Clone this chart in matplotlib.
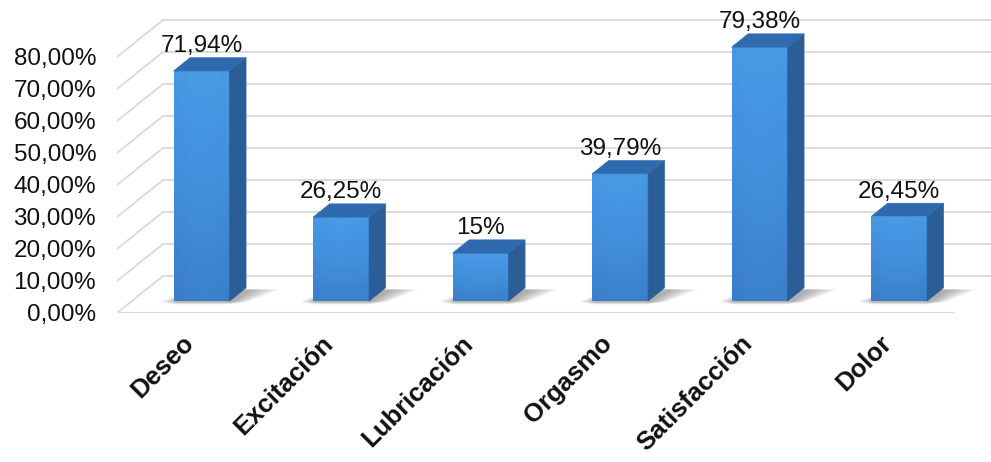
import numpy as np
import matplotlib
matplotlib.use("Agg")
import matplotlib.pyplot as plt
from matplotlib.patches import Polygon
from matplotlib.colors import LinearSegmentedColormap
from matplotlib.transforms import ScaledTranslation

# ---- data ----
categories = ["Deseo", "Excitación", "Lubricación", "Orgasmo", "Satisfacción", "Dolor"]
values = [71.94, 26.25, 15.0, 39.79, 79.38, 26.45]
value_labels = ["71,94%", "26,25%", "15%", "39,79%", "79,38%", "26,45%"]
yticks = [0, 10, 20, 30, 40, 50, 60, 70, 80]
ytick_labels = ["0,00%", "10,00%", "20,00%", "30,00%", "40,00%",
                "50,00%", "60,00%", "70,00%", "80,00%"]

plt.rcParams['font.family'] = ['Liberation Sans', 'DejaVu Sans']

W_PX, H_PX, DPI = 991, 462, 100
fig = plt.figure(figsize=(W_PX / DPI, H_PX / DPI), dpi=DPI)
fig.patch.set_facecolor("white")

# axes geometry (pixels)
left_px, floor_px = 117, 313
px_per_cat = 139.5
px_per_pct = 3.2
x0_px = 186.8  # x of category 0 on front plane
ax = fig.add_axes([left_px / W_PX, (H_PX - floor_px) / H_PX,
                   (W_PX - left_px) / W_PX, floor_px / H_PX])
xmin = (left_px - x0_px) / px_per_cat
xmax = (W_PX - x0_px) / px_per_cat
ax.set_xlim(xmin, xmax)
ax.set_ylim(0, floor_px / px_per_pct)
for s in ax.spines.values():
    s.set_visible(False)
ax.set_facecolor("none")

# depth offsets (data units)
DX = 46 / px_per_cat
DY = 37 / px_per_pct
n = len(categories)
x_front_left = -0.5
x_front_right = n - 0.5

grid_c = "#d9d9d9"
# walls: gridlines on left wall and back wall
for v in yticks:
    ax.plot([xmin, xmin + DX], [v, v + DY], color=grid_c, lw=1.3, zorder=1,
            solid_capstyle="round")
    ax.plot([xmin + DX, xmax + 1], [v + DY, v + DY], color=grid_c, lw=1.3, zorder=1)
# floor front edge
ax.plot([x_front_left, x_front_right], [0, 0], color=grid_c, lw=1.5, zorder=1)

# bars
d1, d2 = 0.32, 0.68
bw = 56 / px_per_cat
xs = np.arange(n) + d1 * DX
base = d1 * DY
ddx, ddy = (d2 - d1) * DX, (d2 - d1) * DY

# soft shadows on the floor
for i, v in enumerate(values):
    xl, xr = xs[i] - bw / 2, xs[i] + bw / 2
    for k in np.linspace(0.16, 0.0, 10):
        poly = Polygon([(xl - k * 0.6, base - 0.8 * (1 - k / 0.16) - 0.2),
                        (xr + k * 0.8, base - 0.8 * (1 - k / 0.16) - 0.2),
                        (xr + ddx + 0.05 + k * 1.2, base + ddy - 0.5),
                        (xl + ddx, base + ddy - 0.5)],
                       closed=True, facecolor="#2a2a2a", edgecolor="none",
                       alpha=0.045, zorder=2)
        ax.add_patch(poly)

bars = ax.bar(xs, values, width=bw, bottom=base, color="#3f88d6",
              edgecolor="none", zorder=3)

cmap_front = LinearSegmentedColormap.from_list(
    "front", ["#4a9ae6", "#428fdc", "#3a7dc8"])
grad = np.linspace(0, 1, 256).reshape(-1, 1)
hgrad = np.array([[0.85, 0.95, 1.0, 1.0, 0.97, 0.9]])
for i, (rect, v) in enumerate(zip(bars, values)):
    xl, xr = xs[i] - bw / 2, xs[i] + bw / 2
    top = base + v
    img = grad * 0.9 + (1 - hgrad) * 0.6
    im = ax.imshow(img, cmap=cmap_front, vmin=0, vmax=1, aspect="auto",
                   extent=[xl, xr, base, top], origin="upper", zorder=3.1,
                   interpolation="bilinear")
    im.set_clip_path(rect)
    # side face
    side = Polygon([(xr, base), (xr + ddx, base + ddy), (xr + ddx, top + ddy), (xr, top)],
                   closed=True, facecolor="#2b5d97", edgecolor="#2b5d97", lw=0.4, zorder=3.2)
    ax.add_patch(side)
    # top face
    topf = Polygon([(xl, top), (xr, top), (xr + ddx, top + ddy), (xl + ddx, top + ddy)],
                   closed=True, facecolor="#2f69ae", edgecolor="#2f69ae", lw=0.4, zorder=3.2)
    ax.add_patch(topf)
    ax.text(xs[i], top + ddy + 0.2, value_labels[i], ha="center", va="bottom",
            fontsize=17.5, color="#111111", zorder=5)

# y ticks
ax.set_yticks(yticks)
ax.set_yticklabels(ytick_labels, fontsize=17.5, color="#111111")
ax.tick_params(axis="y", length=0, pad=15)

# x ticks (category labels)
ax.set_xticks(np.arange(n))
ax.set_xticklabels(categories, rotation=45, ha="right", va="top",
                   rotation_mode="anchor", fontsize=18.5, fontweight="bold",
                   color="#111111")
ax.tick_params(axis="x", length=0, pad=13)
offset = ScaledTranslation(-5 / DPI, 0, fig.dpi_scale_trans)
for lab in ax.get_xticklabels():
    lab.set_transform(lab.get_transform() + offset)

fig.savefig("out.png", dpi=DPI, facecolor="white")
